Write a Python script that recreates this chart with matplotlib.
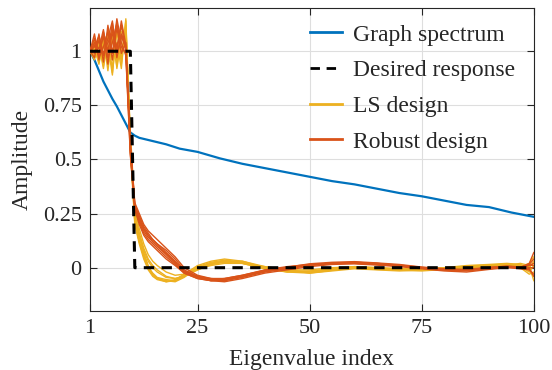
import matplotlib
matplotlib.use("Agg")
import matplotlib.pyplot as plt
from matplotlib.lines import Line2D

plt.rcParams['font.family'] = ['Liberation Serif', 'DejaVu Serif']

# ---------------- data ----------------
spec_x = [1, 2, 3, 4, 5, 6, 7, 8, 9, 10, 11, 12, 15, 18, 21, 25, 30, 35, 40, 45, 50,
          55, 60, 65, 70, 75, 80, 85, 90, 95, 100]
spec_y = [1.0, 0.96, 0.91, 0.86, 0.82, 0.78, 0.745, 0.705, 0.665, 0.625, 0.61, 0.60, 0.585,
          0.57, 0.55, 0.535, 0.505, 0.48, 0.46, 0.44, 0.42, 0.40, 0.385, 0.365, 0.345,
          0.33, 0.31, 0.29, 0.28, 0.255, 0.235]

desired_x = [1, 10, 11, 100]
desired_y = [1.0, 1.0, 0.0, 0.0]

pass_x = [1, 2, 3, 4, 5, 6, 7, 8, 9]
stop_x = [10, 11, 12, 13, 14, 15, 16, 18, 20, 22, 25, 28, 31, 35, 40, 45, 50, 55, 60,
          65, 70, 75, 80, 85, 90, 94, 97, 99, 100]

ls_pass = [
    [1.0, 1.04, 0.97, 1.08, 0.95, 1.12, 0.92, 1.06, 1.10],
    [1.0, 0.96, 1.05, 0.93, 1.10, 0.90, 1.09, 0.97, 1.14],
    [1.0, 1.02, 0.94, 1.06, 0.91, 1.08, 0.95, 1.12, 1.05],
    [1.0, 0.98, 1.07, 0.96, 1.03, 0.89, 1.13, 0.94, 1.12],
    [1.0, 1.05, 0.99, 1.02, 0.94, 1.06, 0.93, 1.09, 1.08],
    [1.0, 0.97, 1.03, 0.92, 1.07, 0.96, 1.04, 0.92, 1.15],
    [1.0, 1.01, 0.95, 1.04, 0.98, 0.93, 1.10, 1.00, 1.09],
]
ls_stop = [
    [0.60, 0.23, 0.14, 0.07, 0.01, -0.03, -0.05, -0.065, -0.06, -0.035, 0.005, 0.025, 0.035, 0.025, 0.0, -0.015, -0.02, -0.01, 0.0, -0.005, -0.01, -0.012, -0.005, 0.005, 0.01, 0.018, 0.012, -0.015, -0.04],
    [0.55, 0.20, 0.11, 0.04, -0.01, -0.04, -0.055, -0.065, -0.055, -0.03, 0.01, 0.03, 0.04, 0.03, 0.005, -0.01, -0.025, -0.015, -0.005, -0.01, -0.015, -0.01, 0.0, 0.01, 0.015, 0.02, 0.015, 0.0, 0.03],
    [0.62, 0.25, 0.15, 0.08, 0.03, 0.0, -0.02, -0.045, -0.05, -0.04, -0.01, 0.015, 0.025, 0.02, -0.005, -0.02, -0.015, -0.005, 0.005, 0.0, -0.005, -0.008, -0.01, 0.0, 0.005, 0.01, 0.02, 0.01, -0.06],
    [0.57, 0.21, 0.12, 0.05, 0.0, -0.035, -0.05, -0.06, -0.065, -0.045, 0.0, 0.02, 0.03, 0.03, 0.0, -0.02, -0.025, -0.012, 0.0, -0.008, -0.012, -0.015, -0.008, 0.003, 0.008, 0.012, 0.005, -0.02, 0.01],
    [0.63, 0.27, 0.18, 0.11, 0.06, 0.03, 0.01, -0.02, -0.035, -0.03, -0.005, 0.01, 0.02, 0.02, 0.005, -0.01, -0.01, 0.0, 0.005, 0.0, -0.005, -0.005, 0.0, 0.005, 0.005, 0.01, 0.005, 0.02, 0.05],
    [0.56, 0.22, 0.12, 0.06, 0.0, -0.025, -0.045, -0.055, -0.06, -0.04, 0.0, 0.02, 0.03, 0.02, -0.005, -0.015, -0.02, -0.01, 0.0, -0.005, -0.01, -0.01, -0.005, 0.005, 0.012, 0.015, 0.0, -0.03, -0.02],
    [0.59, 0.24, 0.16, 0.09, 0.04, 0.01, -0.01, -0.04, -0.05, -0.04, -0.01, 0.015, 0.03, 0.025, 0.0, -0.012, -0.018, -0.008, 0.002, -0.003, -0.008, -0.01, -0.003, 0.006, 0.01, 0.014, 0.008, 0.005, 0.02],
]

rob_pass = [
    [1.0, 1.06, 0.96, 1.09, 1.00, 1.13, 0.97, 1.08, 1.02],
    [1.0, 0.97, 1.08, 0.95, 1.12, 0.99, 1.15, 1.04, 0.98],
    [1.0, 1.03, 0.99, 1.07, 0.94, 1.10, 1.02, 1.12, 1.00],
    [1.0, 1.08, 0.97, 1.02, 1.09, 0.96, 1.11, 0.99, 1.04],
    [1.0, 0.99, 1.05, 0.98, 1.06, 1.14, 0.98, 1.07, 1.01],
    [1.0, 1.04, 1.01, 1.10, 0.97, 1.04, 1.13, 1.02, 0.99],
    [1.0, 1.02, 1.07, 0.99, 1.04, 1.08, 1.00, 1.14, 1.03],
]
rob_stop = [
    [0.56, 0.29, 0.23, 0.18, 0.15, 0.13, 0.11, 0.07, 0.03, -0.015, -0.04, -0.05, -0.05, -0.035, -0.01, 0.005, 0.015, 0.02, 0.025, 0.02, 0.01, 0.0, -0.01, -0.012, -0.002, 0.005, 0.0, 0.02, 0.07],
    [0.52, 0.27, 0.20, 0.15, 0.12, 0.10, 0.08, 0.04, 0.01, -0.025, -0.05, -0.06, -0.06, -0.045, -0.02, -0.005, 0.01, 0.018, 0.02, 0.015, 0.008, -0.002, -0.012, -0.015, -0.005, 0.003, -0.005, -0.01, -0.03],
    [0.58, 0.30, 0.25, 0.20, 0.17, 0.15, 0.13, 0.09, 0.05, 0.0, -0.035, -0.05, -0.055, -0.04, -0.018, -0.002, 0.012, 0.022, 0.025, 0.02, 0.012, 0.002, -0.008, -0.01, 0.0, 0.008, 0.003, 0.015, 0.04],
    [0.54, 0.28, 0.21, 0.16, 0.13, 0.11, 0.09, 0.05, 0.015, -0.02, -0.045, -0.06, -0.065, -0.05, -0.025, -0.01, 0.005, 0.015, 0.018, 0.012, 0.005, -0.005, -0.015, -0.02, -0.008, 0.0, -0.003, 0.0, 0.0],
    [0.57, 0.29, 0.24, 0.19, 0.16, 0.13, 0.11, 0.08, 0.04, -0.01, -0.04, -0.055, -0.05, -0.035, -0.012, 0.002, 0.018, 0.025, 0.028, 0.022, 0.015, 0.003, -0.005, -0.008, 0.002, 0.006, 0.002, 0.01, 0.02],
    [0.53, 0.27, 0.22, 0.17, 0.14, 0.12, 0.10, 0.06, 0.02, -0.025, -0.05, -0.06, -0.055, -0.04, -0.015, 0.0, 0.014, 0.02, 0.02, 0.015, 0.008, -0.002, -0.012, -0.012, -0.002, 0.004, -0.002, -0.005, -0.04],
    [0.55, 0.28, 0.22, 0.18, 0.15, 0.12, 0.10, 0.065, 0.025, -0.018, -0.045, -0.055, -0.058, -0.042, -0.016, -0.002, 0.013, 0.02, 0.022, 0.016, 0.01, 0.0, -0.01, -0.01, 0.0, 0.005, 0.0, 0.012, 0.01],
]

x_ticks = [1, 25, 50, 75, 100]
y_ticks = [0, 0.25, 0.5, 0.75, 1]
y_ticklabels = ['0', '0.25', '0.5', '0.75', '1']
labels = ['Graph spectrum', 'Desired response', 'LS design', 'Robust design']

# ---------------- styles ----------------
c_blue = '#0072BD'
c_yellow = '#EDB120'
c_orange = '#D95319'
c_axis = '#262626'
dash = (0, (3.4, 2.4))

fig = plt.figure(figsize=(5.52, 3.70), dpi=100)
ax = fig.add_axes([0.163, 0.1595, 0.804, 0.819])

ax.plot(spec_x, spec_y, color=c_blue, lw=1.6, zorder=2)
for p, s in zip(ls_pass, ls_stop):
    ax.plot(pass_x + stop_x, p + s, color=c_yellow, lw=1.0, zorder=3)
for p, s in zip(rob_pass, rob_stop):
    ax.plot(pass_x + stop_x, p + s, color=c_orange, lw=1.0, zorder=4)
ax.plot(desired_x, desired_y, color='black', lw=2.2, ls=dash, zorder=5)

ax.set_xlim(1, 100)
ax.set_ylim(-0.2, 1.2)
ax.set_xticks(x_ticks)
ax.set_yticks(y_ticks)
ax.set_yticklabels(y_ticklabels)
ax.grid(True, color='#dedede', lw=0.8)
ax.set_axisbelow(True)
ax.tick_params(direction='in', top=True, right=True, length=5, width=0.8,
               colors=c_axis, labelsize=16, pad=6)
for sp in ax.spines.values():
    sp.set_color(c_axis)
    sp.set_linewidth(0.8)
ax.set_xlabel('Eigenvalue index', fontsize=17, color=c_axis, labelpad=8)
ax.set_ylabel('Amplitude', fontsize=17, color=c_axis, labelpad=7)

handles = [Line2D([], [], color=c_blue, lw=2),
           Line2D([], [], color='black', lw=2, ls=dash),
           Line2D([], [], color=c_yellow, lw=2),
           Line2D([], [], color=c_orange, lw=2)]
leg = ax.legend(handles, labels, loc='upper left', bbox_to_anchor=(0.495, 0.947),
                frameon=False, fontsize=17, borderpad=0, borderaxespad=0,
                handlelength=1.35, handletextpad=0.5, labelspacing=0.6)
for t in leg.get_texts():
    t.set_color(c_axis)

fig.savefig('out.png', dpi=100)
